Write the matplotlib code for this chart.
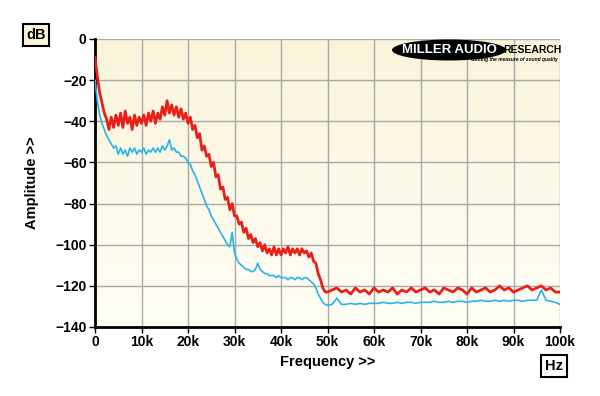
import numpy as np
import matplotlib
matplotlib.use("Agg")
from matplotlib import pyplot as plt
from matplotlib.patches import Ellipse

plt.rcParams['font.family'] = ['Liberation Sans', 'DejaVu Sans']
plt.rcParams['font.weight'] = 'bold'

# red trace, 0-50 kHz in 0.5 kHz steps (dB)
red_lo = [-9, -18, -26, -31, -36, -39, -44, -38, -43, -37,
          -42, -36, -43, -35, -41, -38, -44, -37, -42, -38,
          -41, -37, -42, -36, -40, -35, -41, -36, -39, -33,
          -37, -30, -36, -32, -37, -33, -38, -34, -39, -36,
          -41, -38, -44, -42, -48, -46, -54, -52, -57, -56,
          -62, -60, -67, -66, -73, -72, -78, -77, -83, -80,
          -86, -86, -90, -89, -94, -92, -97, -95, -99, -97,
          -101, -99, -103, -100, -104, -102, -105, -101, -105, -102,
          -105, -102, -104, -101, -105, -102, -104, -102, -105, -102,
          -104, -103, -106, -104, -108, -109, -114, -117, -121, -123,
          -123]
# red trace, 51-100 kHz in 1 kHz steps
red_hi = [-122, -121, -123, -122, -124, -121, -123, -122, -124, -121,
          -123, -122, -123, -121, -124, -122, -123, -121, -123, -122,
          -121, -123, -122, -124, -121, -122, -123, -121, -122, -124,
          -121, -123, -122, -121, -123, -122, -120, -122, -121, -123,
          -122, -121, -120, -122, -121, -120, -122, -121, -123, -123]

# blue trace, 0-50 kHz in 0.5 kHz steps
blue_lo = [-20, -30, -37, -41, -44, -47, -49, -51, -53, -52,
           -56, -53, -56, -54, -57, -53, -55, -53, -56, -54,
           -55, -53, -56, -54, -55, -53, -55, -53, -55, -52,
           -54, -52, -49, -54, -53, -55, -55, -57, -57, -58,
           -60, -61, -64, -66, -69, -72, -75, -78, -81, -83,
           -86, -88, -90, -92, -94, -96, -98, -100, -101, -94,
           -104, -107, -109, -110, -111, -112, -112, -113, -113, -112,
           -109, -112, -113, -114, -114, -115, -115, -115, -116, -115,
           -116, -116, -116, -117, -116, -116, -117, -116, -116, -117,
           -116, -116, -117, -118, -119, -121, -124, -126, -128, -129,
           -129.5]
# blue trace, 51-100 kHz in 1 kHz steps
blue_hi = [-129, -126, -129, -129, -128.5, -129, -128.5, -129, -128.5, -128.5,
           -128.5, -128, -128.5, -128.5, -128, -128.5, -128, -128, -128.5, -128,
           -128, -128, -127.5, -128, -128, -127.5, -128, -127.5, -127.5, -128,
           -127.5, -127.5, -127, -127.5, -127.5, -127, -127.5, -127, -127.5, -127,
           -127, -127.5, -127, -127, -127, -122, -127, -127.5, -128, -129]

x_ticks = [0, 10, 20, 30, 40, 50, 60, 70, 80, 90, 100]
x_labels = ['0', '10k', '20k', '30k', '40k', '50k', '60k', '70k', '80k', '90k', '100k']
y_ticks = [0, -20, -40, -60, -80, -100, -120, -140]

f_lo = np.arange(len(red_lo)) * 0.5
f_hi = 51 + np.arange(len(red_hi))
red = np.concatenate([red_lo, red_hi])
blue = np.concatenate([blue_lo, blue_hi])
freq = np.concatenate([f_lo, f_hi])

fig = plt.figure(figsize=(6, 3.96), dpi=100)
ax = fig.add_axes([95/600, 1 - 327/396, 465/600, 288/396])

# cream background, slightly deeper at the top
grad = np.linspace(0, 1, 100).reshape(-1, 1)
cmap = matplotlib.colors.LinearSegmentedColormap.from_list('bg', ['#FAF4DA', '#FFFEF6'])
ax.imshow(grad, aspect='auto', cmap=cmap, extent=[0, 1, 0, 1],
          transform=ax.transAxes, zorder=0)

ax.plot(freq, red, color='#E8201A', lw=2.0, zorder=3)
ax.plot(freq, blue, color='#26B4EA', lw=1.2, zorder=4)

ax.set_xlim(0, 100)
ax.set_ylim(-140, 0)
ax.set_xticks(x_ticks)
ax.set_xticklabels(x_labels)
ax.set_yticks(y_ticks)
ax.grid(True, color='#A8A8A8', lw=1, zorder=1)
ax.set_axisbelow(True)
for s in ['top', 'right']:
    ax.spines[s].set_visible(False)
for s in ['left', 'bottom']:
    ax.spines[s].set_linewidth(2)
ax.tick_params(direction='out', length=4, width=1, labelsize=10, pad=2)
for lab in ax.get_xticklabels() + ax.get_yticklabels():
    lab.set_fontweight('bold')

ax.set_xlabel('Frequency >>', fontsize=10.5, fontweight='bold', labelpad=4)
ax.set_ylabel('Amplitude >>', fontsize=10.5, fontweight='bold', labelpad=12)

box_db = dict(boxstyle='square,pad=0.25', fc='#FBF5DA', ec='black', lw=1.5)
box_hz = dict(boxstyle='square,pad=0.25', fc='white', ec='black', lw=1.5)
fig.text(36/600, 1 - 35/396, 'dB', fontsize=10.5, fontweight='bold',
         ha='center', va='center', bbox=box_db)
fig.text(554/600, 1 - 366/396, 'Hz', fontsize=10.5, fontweight='bold',
         ha='center', va='center', bbox=box_hz)

# logo
ell = Ellipse((449/600, 1 - 50/396), 114/600, 21/396, transform=fig.transFigure,
              fc='black', ec='none', zorder=5)
fig.patches.append(ell)
fig.text(449/600, 1 - 50/396, 'MILLER AUDIO', fontsize=9.5, fontweight='heavy',
         color='white', ha='center', va='center', zorder=6)
fig.text(503/600, 1 - 50/396, 'RESEARCH', fontsize=7.5, fontweight='heavy',
         color='black', ha='left', va='center', zorder=6)
fig.text(558/600, 1 - 60/396, 'Getting the measure of sound quality', fontsize=3.5,
         fontweight='bold', style='italic', color='black', ha='right', va='center', zorder=6)

fig.savefig('out.png', dpi=100)
